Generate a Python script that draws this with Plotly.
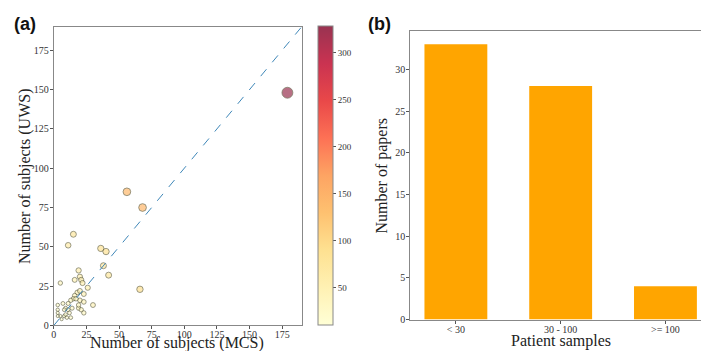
import numpy as np
import plotly.graph_objects as go

# ---- data: panel (a) ----
mcs = [179, 56, 68, 15, 11, 36, 40, 38, 42, 66, 5, 19, 20, 21, 16, 22, 26, 18, 20, 23,
       16, 30, 20, 23, 15, 17, 13, 11, 19, 21, 23, 7, 9, 11, 8, 12, 14, 8, 5, 6,
       10, 9, 13, 3, 3, 3, 3, 19]
uws = [148, 85, 75, 58, 51, 49, 47, 38, 32, 23, 27, 35, 31, 29, 29, 27, 24, 21, 22, 20,
       19, 13, 16, 15, 17, 17, 16, 14, 11, 10, 8, 14, 11, 10, 10, 8, 11, 6, 6, 4,
       5, 7, 5, 13, 10, 8, 6, 13]

# ---- data: panel (b) ----
bar_cats = ["< 30", "30 - 100", ">= 100"]
bar_vals = [33, 28, 4]

ticks_a = [0, 25, 50, 75, 100, 125, 150, 175]
cbar_ticks = [50, 100, 150, 200, 250, 300]
ticks_b = [0, 5, 10, 15, 20, 25, 30]

# ---- styling ----
W, H = 709, 351
serif = "Liberation Serif"
ylorrd = ["#ffffcc", "#ffeda0", "#fed976", "#feb24c", "#fd8d3c",
          "#fc4e2a", "#e31a1c", "#bd0026", "#800026"]


def blend(hexc, a=0.8):
    r, g, b = (int(hexc[i:i + 2], 16) for i in (1, 3, 5))
    return "rgb(%d,%d,%d)" % tuple(round(a * c + (1 - a) * 255) for c in (r, g, b))


cscale = [[i / (len(ylorrd) - 1), blend(c)] for i, c in enumerate(ylorrd)]

total = np.array(mcs) + np.array(uws)
sizes = 0.52 * np.sqrt(total) + 1.5

xmax_a, ymax_a = 190, 190

fig = go.Figure()

fig.add_trace(go.Scatter(
    x=mcs, y=uws, mode="markers", xaxis="x", yaxis="y",
    marker=dict(size=sizes, color=total, colorscale=cscale, cmin=10, cmax=328,
                line=dict(color="rgba(70,70,40,0.85)", width=0.9),
                colorbar=dict(x=308 / W, xanchor="left", y=(H - 323) / H, yanchor="bottom",
                              len=(323 - 19) / H, lenmode="fraction", thickness=15,
                              xpad=0, ypad=0,
                              outlinecolor="#888", outlinewidth=1,
                              tickvals=cbar_ticks, ticks="outside", ticklen=3,
                              tickcolor="#555",
                              tickfont=dict(family=serif, size=9, color="#333"))),
    showlegend=False, hoverinfo="x+y"))

fig.add_trace(go.Bar(
    x=bar_cats, y=bar_vals, xaxis="x2", yaxis="y2", width=0.6,
    marker=dict(color="#ffa500", line=dict(width=0)), showlegend=False))

axis_common = dict(showline=True, linecolor="#888", linewidth=1, mirror=True,
                   ticks="outside", ticklen=3, tickcolor="#555", showgrid=False,
                   zeroline=False,
                   tickfont=dict(family=serif, size=10, color="#333"))
xcommon = dict(axis_common, ticklabelstandoff=-3)
ycommon = dict(axis_common, ticklabelstandoff=-1)

title_font = dict(family=serif, size=16, color="#222")


def label(text, x, y, angle=0, yanchor="middle"):
    return dict(text=text, x=x / W, y=1 - y / H, xref="paper", yref="paper",
                xanchor="center", yanchor=yanchor, showarrow=False, textangle=angle,
                font=title_font)


fig.update_layout(
    width=W, height=H, margin=dict(l=0, r=0, t=0, b=0),
    paper_bgcolor="white", plot_bgcolor="white",
    xaxis=dict(domain=[43 / W, 292 / W], range=[0, xmax_a], tickvals=ticks_a,
               anchor="y", **xcommon),
    yaxis=dict(domain=[(H - 323) / H, (H - 19) / H], range=[0, ymax_a], tickvals=ticks_a,
               anchor="x", **ycommon),
    xaxis2=dict(domain=[401 / W, 703 / W], range=[-0.435, 2.435], anchor="y2",
                **xcommon),
    yaxis2=dict(domain=[(H - 317) / H, (H - 23) / H], range=[0, 34.65], tickvals=ticks_b,
                anchor="x2", **ycommon),
    shapes=[dict(type="line", xref="x", yref="y", x0=0, y0=0, x1=xmax_a, y1=ymax_a,
                 line=dict(color="#3f87b8", width=1, dash="dash"))],
    annotations=[
        dict(text="<b>(a)</b>", x=1 / W, y=1 - 4 / H, xref="paper", yref="paper",
             xanchor="left", yanchor="top", showarrow=False,
             font=dict(family="Liberation Sans", size=18, color="#111")),
        dict(text="<b>(b)</b>", x=357 / W, y=1 - 4 / H, xref="paper", yref="paper",
             xanchor="left", yanchor="top", showarrow=False,
             font=dict(family="Liberation Sans", size=18, color="#111")),
        label("Number of subjects (MCS)", 167, 352, yanchor="bottom"),
        label("Number of subjects (UWS)", 14, 171, -90),
        label("Patient samples", 552, 350, yanchor="bottom"),
        label("Number of papers", 373, 170, -90),
    ],
)

fig.write_html("out.html")
